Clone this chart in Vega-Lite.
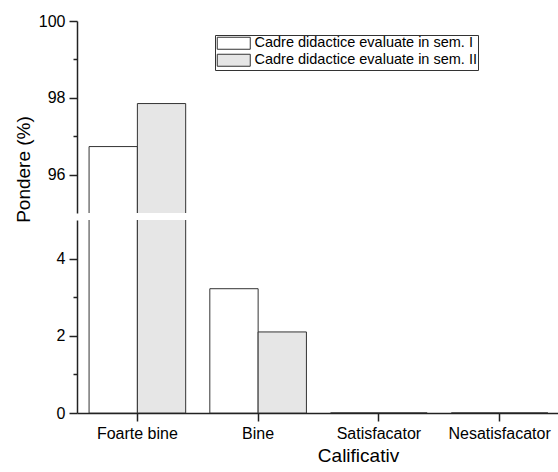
{
  "$schema": "https://vega.github.io/schema/vega-lite/v6.json",
  "padding": {"left": 14, "top": 13, "right": 0, "bottom": 0},
  "background": "white",
  "bounds": "flush",
  "config": {
    "view": {"stroke": null},
    "font": "Liberation Sans",
    "axis": {
      "grid": false,
      "domainColor": "#222",
      "domainWidth": 1.5,
      "tickColor": "#222",
      "tickWidth": 1.5,
      "labelColor": "#000",
      "labelFont": "Liberation Sans",
      "labelFontSize": 16,
      "titleFont": "Liberation Sans",
      "titleFontSize": 19,
      "titleFontWeight": "normal",
      "titleColor": "#000"
    }
  },
  "data": {
    "values": [
      {"calificativ": "Foarte bine", "sem": "Cadre didactice evaluate in sem. I", "pondere": 96.73},
      {"calificativ": "Foarte bine", "sem": "Cadre didactice evaluate in sem. II", "pondere": 97.85},
      {"calificativ": "Bine", "sem": "Cadre didactice evaluate in sem. I", "pondere": 3.22},
      {"calificativ": "Bine", "sem": "Cadre didactice evaluate in sem. II", "pondere": 2.1},
      {"calificativ": "Satisfacator", "sem": "Cadre didactice evaluate in sem. I", "pondere": 0},
      {"calificativ": "Satisfacator", "sem": "Cadre didactice evaluate in sem. II", "pondere": 0},
      {"calificativ": "Nesatisfacator", "sem": "Cadre didactice evaluate in sem. I", "pondere": 0},
      {"calificativ": "Nesatisfacator", "sem": "Cadre didactice evaluate in sem. II", "pondere": 0}
    ]
  },
  "spacing": 7,
  "resolve": {"legend": {"fill": "independent"}},
  "vconcat": [
    {
      "width": 483,
      "height": 192,
      "mark": {"type": "bar", "clip": true, "stroke": "#333", "strokeWidth": 1},
      "encoding": {
        "x": {
          "field": "calificativ", "type": "nominal", "sort": ["Foarte bine", "Bine", "Satisfacator", "Nesatisfacator"],
          "scale": {"paddingInner": 0.2, "paddingOuter": 0.1},
          "axis": null
        },
        "xOffset": {"field": "sem", "type": "nominal", "scale": {"paddingInner": 0, "paddingOuter": 0}},
        "y": {
          "field": "pondere", "type": "quantitative",
          "scale": {"domain": [95, 100], "zero": false, "nice": false},
          "axis": {
            "values": [96, 97, 98, 99, 100],
            "labelExpr": "datum.value % 2 == 0 ? datum.label : ''",
            "tickSize": {"condition": {"test": "datum.value % 2 == 0", "value": 8}, "value": 4},
            "labelPadding": 4,
            "title": "Pondere (%)",
            "titleY": 148,
            "titlePadding": 5
          }
        },
        "fill": {
          "field": "sem", "type": "nominal",
          "scale": {"domain": ["Cadre didactice evaluate in sem. I", "Cadre didactice evaluate in sem. II"], "range": ["#ffffff", "#e6e6e6"]},
          "legend": {
            "orient": "none", "legendX": 138, "legendY": 14, "title": null,
            "symbolType": "M-1,-1H4.5V1H-1Z", "symbolSize": 144,
            "symbolStrokeColor": "#333", "symbolStrokeWidth": 1, "symbolOpacity": 1,
            "labelFont": "Liberation Sans", "labelFontSize": 14.5, "labelColor": "#000", "labelOffset": 24, "labelLimit": 400,
            "strokeColor": "#333", "fillColor": "white", "padding": 1, "rowPadding": 0
          }
        }
      }
    },
    {
      "width": 483,
      "height": 193,
      "mark": {"type": "bar", "clip": true, "stroke": "#333", "strokeWidth": 1},
      "encoding": {
        "x": {
          "field": "calificativ", "type": "nominal", "sort": ["Foarte bine", "Bine", "Satisfacator", "Nesatisfacator"],
          "scale": {"paddingInner": 0.2, "paddingOuter": 0.1},
          "axis": {
            "labelAngle": 0, "tickSize": 8, "labelPadding": 4,
            "title": "Calificativ", "titleX": 281, "titlePadding": 5
          }
        },
        "xOffset": {"field": "sem", "type": "nominal", "scale": {"paddingInner": 0, "paddingOuter": 0}},
        "y": {
          "field": "pondere", "type": "quantitative",
          "scale": {"domain": [0, 5], "nice": false},
          "axis": {
            "values": [0, 1, 2, 3, 4],
            "labelExpr": "datum.value % 2 == 0 ? datum.label : ''",
            "tickSize": {"condition": {"test": "datum.value % 2 == 0", "value": 8}, "value": 4},
            "labelPadding": 4,
            "title": null
          }
        },
        "fill": {
          "field": "sem", "type": "nominal",
          "scale": {"domain": ["Cadre didactice evaluate in sem. I", "Cadre didactice evaluate in sem. II"], "range": ["#ffffff", "#e6e6e6"]},
          "legend": null
        }
      }
    }
  ]
}
